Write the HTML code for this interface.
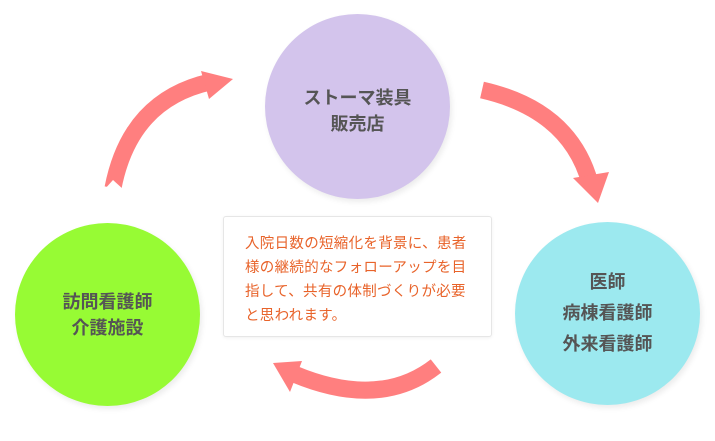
<!DOCTYPE html>
<html><head><meta charset="utf-8"><style>
html,body{margin:0;padding:0;background:#fff;width:715px;height:441px;overflow:hidden;position:relative;font-family:"Liberation Sans","Noto Sans CJK JP",sans-serif}
.c{position:absolute;border-radius:50%;box-shadow:2px 3px 6px rgba(0,0,0,.08);display:flex;flex-direction:column;align-items:center;justify-content:center;color:#555;font-weight:bold;font-size:18px;text-align:center}
.box{position:absolute;left:223px;top:216px;width:269px;height:121px;border:1px solid #e6e6e6;border-radius:3px;box-shadow:0 1px 3px rgba(0,0,0,.06);background:#fff;color:#e8632a;font-size:14.5px;line-height:24px;box-sizing:border-box;padding:15px 0 0 21px;letter-spacing:.3px}
</style></head><body>
<svg width="715" height="441" style="position:absolute;left:0;top:0">
<g fill="none" stroke="#ff7f7f" stroke-width="17" stroke-linecap="butt">
<path d="M113,188 Q130,100 210,82"/>
<path d="M482,90 Q570,110 590,183"/>
<path d="M436,366 Q380,410 294,374"/>
</g>
<g fill="#ff7f7f">
<polygon points="233,79 201,71 209,99"/>
<polygon points="598,203 573,178 609,172"/>
<polygon points="273,363 302,361 290,392"/>
<polygon points="104,190 113,180 124,190" fill="#fff"/>
</g>
</svg>
<div class="c" style="left:265px;top:14px;width:185px;height:185px;background:#d3c4ec;line-height:26px"><div style="margin-top:8px">ストーマ装具<br>販売店</div></div>
<div class="c" style="left:15px;top:223px;width:185px;height:183px;background:#97fb34;line-height:26px">訪問看護師<br>介護施設</div>
<div class="c" style="left:515px;top:222px;width:185px;height:183px;background:#9ce9ef;line-height:31px">医師<br>病棟看護師<br>外来看護師</div>
<div class="box">入院日数の短縮化を背景に、患者<br>様の継続的なフォローアップを目<br>指して、共有の体制づくりが必要<br>と思われます。</div>
</body></html>
